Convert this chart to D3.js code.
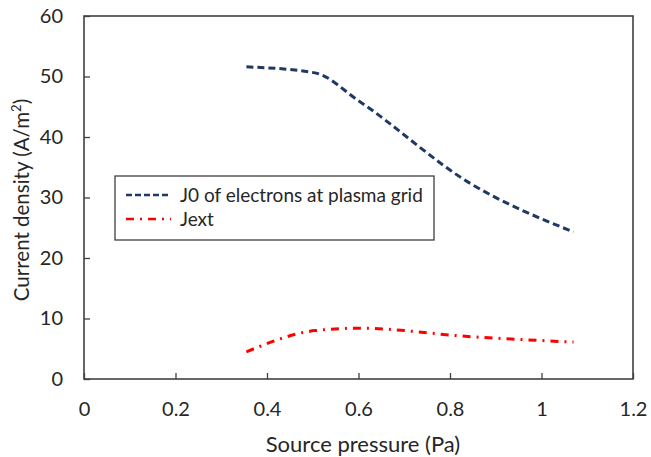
<!DOCTYPE html>
<html>
<head>
<meta charset="utf-8">
<script src="https://cdn.jsdelivr.net/npm/d3@7"></script>
<style>
  body { margin: 0; background: #fff; }
  svg { font-family: Lato, "Open Sans", sans-serif; }
</style>
</head>
<body>
<div id="chart"></div>
<script>
// source pressure (Pa)
const pressure = [0.355, 0.505, 0.6, 0.845, 1.07];
// current densities (A/m2)
const j0 = [51.6, 50.6, 46.0, 32.3, 24.3];
const jext = [4.5, 8.0, 8.4, 7.0, 6.1];
const xTicks = [0, 0.2, 0.4, 0.6, 0.8, 1, 1.2];
const yTicks = [0, 10, 20, 30, 40, 50, 60];
const seriesNames = ["J0 of electrons at plasma grid", "Jext"];

const width = 651, height = 457;
const margin = {top: 16, right: 18, bottom: 78, left: 84};

const svg = d3.select("#chart").append("svg")
    .attr("width", width)
    .attr("height", height);

const x = d3.scaleLinear().domain([0, 1.2]).range([margin.left, width - margin.right]);
const y = d3.scaleLinear().domain([0, 60]).range([height - margin.bottom, margin.top]);

// plot frame
svg.append("rect")
    .attr("x", x(0)).attr("y", y(60))
    .attr("width", x(1.2) - x(0)).attr("height", y(0) - y(60))
    .attr("fill", "none").attr("stroke", "#404040").attr("stroke-width", 1.6);

const xAxis = svg.append("g")
    .attr("transform", "translate(0," + y(0) + ")")
    .call(d3.axisBottom(x).tickValues(xTicks).tickFormat(d3.format("~g")).tickSize(-6).tickPadding(23));
const yAxis = svg.append("g")
    .attr("transform", "translate(" + x(0) + ",0)")
    .call(d3.axisLeft(y).tickValues(yTicks).tickSize(-6).tickPadding(21));

[xAxis, yAxis].forEach(g => {
    g.select(".domain").remove();
    g.selectAll(".tick line").attr("stroke", "#404040").attr("stroke-width", 1.3);
    g.selectAll(".tick text").attr("fill", "#262626").style("font-size", "20px").style("font-family", "Lato, sans-serif");
});

// axis titles
svg.append("text")
    .attr("x", 363).attr("y", 452)
    .attr("text-anchor", "middle")
    .attr("fill", "#262626").style("font-size", "22px")
    .text("Source pressure (Pa)");

const yTitle = svg.append("text")
    .attr("transform", "translate(29,200) rotate(-90)")
    .attr("text-anchor", "middle")
    .attr("fill", "#262626").style("font-size", "20.5px");
yTitle.append("tspan").text("Current density (A/m");
yTitle.append("tspan").attr("dy", -8).style("font-size", "13px").text("2");
yTitle.append("tspan").attr("dy", 8).text(")");

// lines
const line = d3.line()
    .x(d => x(d[0]))
    .y(d => y(d[1]))
    .curve(d3.curveMonotoneX);

const styles = [
    {color: "#1f3864", dash: "7,4"},
    {color: "#ff0000", dash: "8,6,2,6"}
];

[j0, jext].forEach((vals, i) => {
    svg.append("path")
        .datum(pressure.map((p, k) => [p, vals[k]]))
        .attr("d", line)
        .attr("fill", "none")
        .attr("stroke", styles[i].color)
        .attr("stroke-width", 3)
        .attr("stroke-dasharray", styles[i].dash);
});

// legend
const legend = svg.append("g").attr("transform", "translate(115,176)");
legend.append("rect")
    .attr("width", 319).attr("height", 64)
    .attr("fill", "#fff").attr("stroke", "#404040").attr("stroke-width", 1.3);

seriesNames.forEach((name, i) => {
    const row = legend.append("g").attr("transform", "translate(0," + (19 + i * 24) + ")");
    row.append("line")
        .attr("x1", 11).attr("x2", 56)
        .attr("stroke", styles[i].color)
        .attr("stroke-width", 2.5)
        .attr("stroke-dasharray", i == 0 ? "6,3" : "8,6,2,6");
    row.append("text")
        .attr("x", 65).attr("dy", "0.35em")
        .attr("fill", "#262626").style("font-size", "19px")
        .text(name);
});
</script>
</body>
</html>
